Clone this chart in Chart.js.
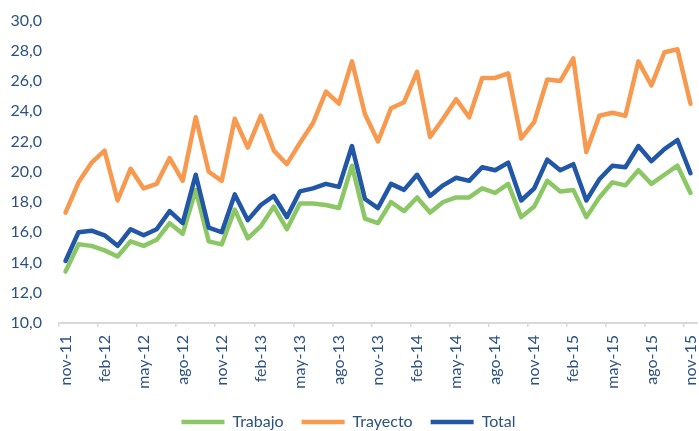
<!DOCTYPE html>
<html>
<head>
<meta charset="utf-8">
<script src="https://cdn.jsdelivr.net/npm/chart.js@4"></script>
<style>
  html, body { margin: 0; padding: 0; background: #fff; }
  #wrap { width: 699px; height: 431px; }
</style>
</head>
<body>
<div id="wrap"><canvas id="chart"></canvas></div>
<script>
const months = [
  'nov-11','dic-11','ene-12','feb-12','mar-12','abr-12','may-12','jun-12','jul-12','ago-12','sep-12','oct-12',
  'nov-12','dic-12','ene-13','feb-13','mar-13','abr-13','may-13','jun-13','jul-13','ago-13','sep-13','oct-13',
  'nov-13','dic-13','ene-14','feb-14','mar-14','abr-14','may-14','jun-14','jul-14','ago-14','sep-14','oct-14',
  'nov-14','dic-14','ene-15','feb-15','mar-15','abr-15','may-15','jun-15','jul-15','ago-15','sep-15','oct-15',
  'nov-15'
];

const trabajo = [
  13.4, 15.2, 15.1, 14.8, 14.4, 15.4, 15.1, 15.5, 16.6, 15.9, 18.8, 15.4,
  15.2, 17.5, 15.6, 16.4, 17.7, 16.2, 17.9, 17.9, 17.8, 17.6, 20.4, 16.9,
  16.6, 18.0, 17.4, 18.3, 17.3, 18.0, 18.3, 18.3, 18.9, 18.6, 19.2, 17.0,
  17.7, 19.4, 18.7, 18.8, 17.0, 18.3, 19.3, 19.1, 20.1, 19.2, 19.8, 20.4,
  18.6
];

const trayecto = [
  17.3, 19.3, 20.6, 21.4, 18.1, 20.2, 18.9, 19.2, 20.9, 19.4, 23.6, 20.0,
  19.4, 23.5, 21.6, 23.7, 21.4, 20.5, 21.9, 23.2, 25.3, 24.5, 27.3, 23.8,
  22.0, 24.2, 24.6, 26.6, 22.3, 23.5, 24.8, 23.6, 26.2, 26.2, 26.5, 22.2,
  23.3, 26.1, 26.0, 27.5, 21.3, 23.7, 23.9, 23.7, 27.3, 25.7, 27.9, 28.1,
  24.5
];

const total = [
  14.1, 16.0, 16.1, 15.8, 15.1, 16.2, 15.8, 16.2, 17.4, 16.6, 19.8, 16.3,
  16.0, 18.5, 16.8, 17.8, 18.4, 17.0, 18.7, 18.9, 19.2, 19.0, 21.7, 18.2,
  17.6, 19.2, 18.8, 19.8, 18.4, 19.1, 19.6, 19.4, 20.3, 20.1, 20.6, 18.1,
  18.9, 20.8, 20.1, 20.5, 18.1, 19.5, 20.4, 20.3, 21.7, 20.7, 21.5, 22.1,
  19.9
];

const yTicks = [10, 12, 14, 16, 18, 20, 22, 24, 26, 28, 30];

const textColor = '#2b5282';
const axisGray = '#d9d9d9';
const fontFamily = 'Lato, "Liberation Sans", sans-serif';

const lineSet = (label, data, color, order) => ({
  label,
  data,
  borderColor: color,
  backgroundColor: color,
  borderWidth: 4.5,
  borderCapStyle: 'round',
  borderJoinStyle: 'round',
  pointRadius: 0,
  pointHoverRadius: 0,
  tension: 0,
  fill: false,
  order
});

new Chart(document.getElementById('chart'), {
  type: 'line',
  data: {
    labels: months,
    datasets: [
      lineSet('Trabajo', trabajo, '#8cc766', 2),
      lineSet('Trayecto', trayecto, '#f79a50', 1),
      lineSet('Total', total, '#2157a6', 0)
    ]
  },
  options: {
    responsive: true,
    maintainAspectRatio: false,
    animation: false,
    layout: {
      padding: { top: 20.5, right: 2, left: 0, bottom: -9 }
    },
    plugins: {
      tooltip: { enabled: false },
      legend: {
        position: 'bottom',
        labels: {
          usePointStyle: true,
          pointStyle: 'line',
          pointStyleWidth: 43,
          boxHeight: 16,
          padding: 18,
          color: textColor,
          font: { family: fontFamily, size: 16 },
          sort: (a, b) => a.datasetIndex - b.datasetIndex
        }
      }
    },
    scales: {
      x: {
        offset: true,
        afterFit: (scale) => {
          scale.height = 73;
          scale.paddingLeft = 0;
          scale.paddingRight = 0;
        },
        border: { display: true, color: axisGray, width: 2 },
        grid: {
          offset: true,
          drawOnChartArea: false,
          drawTicks: true,
          tickLength: 4,
          lineWidth: 1.5,
          color: (ctx) => (ctx.index % 3 === 0 ? axisGray : 'transparent')
        },
        ticks: {
          autoSkip: false,
          minRotation: 90,
          maxRotation: 90,
          padding: 8,
          color: textColor,
          font: { family: fontFamily, size: 16 },
          callback: (value, index) => (index % 3 === 0 ? months[index] : '')
        }
      },
      y: {
        min: yTicks[0],
        max: yTicks[yTicks.length - 1],
        afterFit: (scale) => {
          scale.width = 59;
          scale.paddingTop = 0;
          scale.paddingBottom = 0;
        },
        afterBuildTicks: (scale) => { scale.ticks = yTicks.map((v) => ({ value: v })); },
        border: { display: false },
        grid: { display: false, drawTicks: false },
        ticks: {
          padding: 17,
          color: textColor,
          font: { family: fontFamily, size: 16 },
          callback: (value) => value.toFixed(1).replace('.', ',')
        }
      }
    }
  }
});
</script>
</body>
</html>
